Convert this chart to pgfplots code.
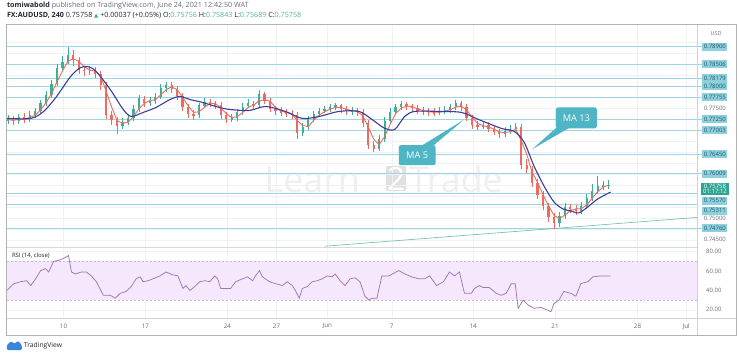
\documentclass[border=0pt]{standalone}
\usepackage{pgfplots}
\pgfplotsset{compat=1.18}
\usepackage{pgfplotstable}
\usepackage{fontspec}
\setmainfont{Open Sans}
\newfontfamily\dejavu{DejaVu Sans}
\newcommand\fs[1]{\fontsize{#1}{#1}\selectfont}
\definecolor{lvl}{HTML}{9DD5E2}
\definecolor{lvlbox}{HTML}{8FD0DF}
\definecolor{lvltxt}{HTML}{1D5566}
\definecolor{upc}{HTML}{3DAE98}
\definecolor{dnc}{HTML}{EF6A5E}
\definecolor{mafc}{HTML}{F06A5C}
\definecolor{matc}{HTML}{3D3D99}
\definecolor{rsil}{HTML}{A274B8}
\definecolor{rsif}{HTML}{F5E8FC}
\definecolor{rsid}{HTML}{CDB6DA}
\definecolor{callc}{HTML}{4DB5C3}
\definecolor{trendc}{HTML}{6BBBA6}
\definecolor{gridc}{HTML}{EEF1F5}
\definecolor{txtg}{HTML}{6A6D78}
\definecolor{txtd}{HTML}{232630}
\definecolor{curp}{HTML}{2EA594}
\definecolor{wm}{HTML}{EFEFEF}
\definecolor{wmb}{HTML}{E0E0E0}
\definecolor{tvblue}{HTML}{3A86D8}
\definecolor{valc}{HTML}{4DB6A4}
\tikzset{
  lbl/.style={anchor=west, xshift=5pt, fill=lvlbox, text=lvltxt, font=\fs{6}, inner xsep=1.4pt, inner ysep=0.5pt, minimum height=8pt},
  plbl/.style={anchor=west, xshift=5pt, text=txtg, font=\fs{6}, inner xsep=1.4pt, inner ysep=0.5pt},
  tl/.style={anchor=center, yshift=-8pt, text=txtg, font=\fs{6.3}},
  rl/.style={anchor=west, xshift=5.5pt, text=txtg, font=\fs{6}},
}

\pgfplotstableread{
k o c h l
0 0.77199 0.77244 0.77335 0.77131
1 0.77244 0.77199 0.77312 0.77108
2 0.77199 0.77290 0.77358 0.77131
3 0.77290 0.77244 0.77381 0.77154
4 0.77244 0.77335 0.77426 0.77176
5 0.77335 0.77426 0.77494 0.77267
6 0.77426 0.77630 0.77698 0.77381
7 0.77630 0.77811 0.77902 0.77562
8 0.77811 0.78061 0.78152 0.77743
9 0.78061 0.78424 0.78515 0.78016
10 0.78424 0.78560 0.78696 0.78356
11 0.78560 0.78719 0.78900 0.78515
12 0.78719 0.78605 0.78832 0.78469
13 0.78605 0.78378 0.78673 0.78288
14 0.78378 0.78356 0.78469 0.78242
15 0.78356 0.78378 0.78469 0.78265
16 0.78378 0.78288 0.78446 0.78197
17 0.78288 0.78038 0.78356 0.77925
18 0.78038 0.77335 0.78106 0.77244
19 0.77335 0.77222 0.77426 0.77108
20 0.77222 0.77086 0.77290 0.76904
21 0.77086 0.77176 0.77267 0.77018
22 0.77176 0.77267 0.77358 0.77108
23 0.77267 0.77471 0.77562 0.77199
24 0.77471 0.77721 0.77811 0.77403
25 0.77721 0.77630 0.77789 0.77539
26 0.77630 0.77675 0.77766 0.77562
27 0.77675 0.77766 0.77857 0.77607
28 0.77766 0.77970 0.78061 0.77698
29 0.77970 0.78038 0.78106 0.77879
30 0.78038 0.77948 0.78106 0.77857
31 0.77948 0.77789 0.78016 0.77698
32 0.77789 0.77517 0.77857 0.77426
33 0.77517 0.77358 0.77585 0.77267
34 0.77358 0.77335 0.77471 0.77222
35 0.77335 0.77562 0.77630 0.77267
36 0.77562 0.77653 0.77743 0.77494
37 0.77653 0.77607 0.77721 0.77539
38 0.77607 0.77562 0.77675 0.77471
39 0.77562 0.77335 0.77630 0.77244
40 0.77335 0.77244 0.77403 0.77154
41 0.77244 0.77267 0.77358 0.77176
42 0.77267 0.77403 0.77471 0.77199
43 0.77403 0.77539 0.77630 0.77335
44 0.77539 0.77607 0.77698 0.77494
45 0.77607 0.77562 0.77675 0.77471
46 0.77562 0.77834 0.77925 0.77517
47 0.77834 0.77675 0.77879 0.77585
48 0.77675 0.77471 0.77743 0.77403
49 0.77471 0.77426 0.77539 0.77335
50 0.77426 0.77403 0.77517 0.77312
51 0.77403 0.77381 0.77471 0.77290
52 0.77381 0.77335 0.77449 0.77244
53 0.77335 0.76927 0.77403 0.76791
54 0.76927 0.77063 0.77154 0.76859
55 0.77063 0.77244 0.77312 0.76995
56 0.77244 0.77358 0.77426 0.77176
57 0.77358 0.77426 0.77494 0.77290
58 0.77426 0.77471 0.77562 0.77381
59 0.77471 0.77539 0.77607 0.77403
60 0.77539 0.77562 0.77630 0.77449
61 0.77562 0.77471 0.77607 0.77381
62 0.77471 0.77426 0.77539 0.77335
63 0.77426 0.77449 0.77517 0.77335
64 0.77449 0.77403 0.77494 0.77312
65 0.77403 0.77154 0.77471 0.77063
66 0.77154 0.76655 0.77222 0.76564
67 0.76655 0.76564 0.76745 0.76496
68 0.76564 0.76791 0.76882 0.76519
69 0.76791 0.77199 0.77290 0.76723
70 0.77199 0.77403 0.77494 0.77131
71 0.77403 0.77517 0.77607 0.77335
72 0.77517 0.77585 0.77675 0.77449
73 0.77585 0.77539 0.77653 0.77449
74 0.77539 0.77494 0.77607 0.77403
75 0.77494 0.77426 0.77562 0.77358
76 0.77426 0.77449 0.77517 0.77335
77 0.77449 0.77403 0.77494 0.77312
78 0.77403 0.77381 0.77494 0.77312
79 0.77381 0.77426 0.77517 0.77335
80 0.77426 0.77449 0.77539 0.77358
81 0.77449 0.77517 0.77607 0.77381
82 0.77517 0.77607 0.77698 0.77449
83 0.77607 0.77517 0.77653 0.77426
84 0.77517 0.77267 0.77585 0.77199
85 0.77267 0.77108 0.77335 0.77018
86 0.77108 0.77086 0.77199 0.76995
87 0.77086 0.77108 0.77199 0.77018
88 0.77108 0.77018 0.77176 0.76950
89 0.77018 0.76950 0.77086 0.76882
90 0.76950 0.76904 0.77018 0.76814
91 0.76904 0.76972 0.77063 0.76836
92 0.76972 0.77018 0.77108 0.76904
93 0.77018 0.77063 0.77154 0.76972
94 0.77063 0.76201 0.77131 0.76110
95 0.76201 0.76110 0.76337 0.76020
96 0.76110 0.75793 0.76178 0.75702
97 0.75793 0.75521 0.75884 0.75430
98 0.75521 0.75271 0.75611 0.75181
99 0.75271 0.75022 0.75339 0.74908
100 0.75022 0.74886 0.75113 0.74750
101 0.74886 0.75044 0.75135 0.74795
102 0.75044 0.75249 0.75339 0.74976
103 0.75249 0.75203 0.75317 0.75113
104 0.75203 0.75158 0.75294 0.75067
105 0.75158 0.75271 0.75362 0.75090
106 0.75271 0.75453 0.75543 0.75203
107 0.75453 0.75611 0.75770 0.75385
108 0.75611 0.75725 0.75952 0.75543
109 0.75725 0.75748 0.75838 0.75634
110 0.75748 0.75758 0.75861 0.75657
}\candles

\pgfplotstableread{
k v
0 0.77244
1 0.77222
2 0.77244
3 0.77244
4 0.77290
5 0.77335
6 0.77464
7 0.77623
8 0.77834
9 0.78099
10 0.78349
11 0.78567
12 0.78628
13 0.78567
14 0.78446
15 0.78372
16 0.78340
17 0.78236
18 0.77886
19 0.77532
20 0.77215
21 0.77160
22 0.77176
23 0.77306
24 0.77487
25 0.77607
26 0.77675
27 0.77691
28 0.77805
29 0.77925
30 0.77986
31 0.77925
32 0.77750
33 0.77555
34 0.77403
35 0.77419
36 0.77517
37 0.77607
38 0.77607
39 0.77501
40 0.77380
41 0.77283
42 0.77306
43 0.77403
44 0.77517
45 0.77569
46 0.77669
47 0.77691
48 0.77659
49 0.77523
50 0.77433
51 0.77403
52 0.77374
53 0.77215
54 0.77108
55 0.77079
56 0.77222
57 0.77342
58 0.77419
59 0.77478
60 0.77517
61 0.77517
62 0.77478
63 0.77442
64 0.77419
65 0.77328
66 0.77070
67 0.76791
68 0.76671
69 0.76852
70 0.77131
71 0.77374
72 0.77501
73 0.77546
74 0.77539
75 0.77487
76 0.77448
77 0.77419
78 0.77410
79 0.77410
80 0.77426
81 0.77464
82 0.77523
83 0.77546
84 0.77464
85 0.77297
86 0.77154
87 0.77101
88 0.77070
89 0.77024
90 0.76956
91 0.76943
92 0.76965
93 0.77018
94 0.76761
95 0.76457
96 0.76036
97 0.75809
98 0.75528
99 0.75271
100 0.75060
101 0.74983
102 0.75060
103 0.75165
104 0.75203
105 0.75210
106 0.75294
107 0.75446
108 0.75596
109 0.75695
110 0.75748
}\mafive

\pgfplotstableread{
k v
-0.18 0.77267
4.19 0.77267
6.56 0.77426
8.93 0.77766
11.48 0.78220
13.30 0.78424
14.75 0.78446
16.21 0.78333
18.76 0.77925
21.13 0.77471
22.59 0.77312
24.77 0.77403
27.14 0.77517
29.69 0.77698
31.51 0.77766
33.33 0.77698
35.70 0.77630
38.07 0.77539
40.62 0.77471
44.26 0.77449
47.18 0.77539
50.82 0.77426
53.92 0.77267
57.01 0.77312
60.66 0.77426
64.30 0.77426
66.67 0.77244
69.03 0.77040
70.86 0.77018
72.68 0.77312
74.50 0.77426
78.87 0.77426
83.06 0.77403
86.16 0.77244
90.35 0.77040
92.71 0.76972
94.54 0.76723
96.36 0.76178
98.18 0.75725
100.00 0.75362
101.64 0.75203
103.10 0.75158
104.55 0.75113
106.19 0.75249
108.01 0.75430
110.38 0.75589
}\mathirteen

\pgfplotstableread{
k v
-0.18 40
0.18 41.8
1.09 47
2.37 49
3.46 50
4.19 45
5.10 52
6.01 60.5
6.92 62.5
7.47 59
8.38 70
9.29 71
10.20 73
11.11 76
11.66 59
12.39 57
13.48 59
14.39 59
15.30 55
16.21 49
17.49 35
18.76 35
19.67 32
20.58 37
21.68 39
22.59 44
23.50 52
24.23 54
24.77 49
25.68 50
26.59 52
27.87 55
28.96 59
30.24 56
31.15 55
32.06 42
32.60 45
33.33 40
34.24 44
35.15 49
36.07 50
36.98 49
37.89 55
38.43 52
38.98 42
39.89 42
40.80 42
41.71 49
42.99 52
43.90 54
44.81 50
45.36 55
46.08 60.5
46.63 54
47.91 49
49.00 47
50.27 45
51.18 49
52.09 45
52.64 40
53.37 32
53.92 42
54.83 44
55.74 49
56.65 50
57.56 52
58.47 55
59.38 54
59.93 57
60.84 50
61.75 45
62.66 52
63.57 53
64.48 49
65.39 34
66.12 30
66.67 32
67.58 32
68.49 55
69.76 55
71.58 60.5
72.68 57
73.95 54
75.23 52
76.32 52
77.23 55
78.51 45
79.78 49
80.87 59
81.79 55
82.70 59
83.61 37
84.88 37
85.43 42
86.34 45
87.07 43
88.16 43
89.44 37
90.35 35
91.26 37
92.17 47
92.90 47
93.44 21.5
94.35 30
95.26 25
96.36 21.5
97.63 22.5
98.91 19.5
99.45 18
100.00 26.5
100.91 30
101.82 39
103.10 37
104.01 34
104.92 47
106.19 49
107.10 54
108.56 55
110.38 55
}\rsi

\begin{document}
\begin{tikzpicture}
\begin{scope}[x=1pt,y=-1pt]
\path[use as bounding box] (0,0) rectangle (740,357);
\fill[white] (0,0) rectangle (740,357);
% watermark
\node[text=wm, font=\fs{36}, inner sep=0, anchor=base west] at (262,193) {Learn};
\node[fill=wmb, text=white, font=\fs{32}, rounded corners=2pt, inner sep=1pt, anchor=base west] at (384,191) {2};
\node[text=wm, font=\fs{36}, inner sep=0, anchor=base west] at (407,193) {Trade};
\end{scope}

\begin{axis}[
  at={(3pt,-249pt)}, anchor=south west,
  scale only axis, width=694pt, height=225pt,
  xmin=-0.18, xmax=126.23, ymin=0.74319, ymax=0.79422,
  axis line style={draw=none}, tick style={draw=none},
  xtick={10.2,25.2,40.2,49.2,58.5,70.3,85.2,100.2,115.3,124.2},
  xticklabels={},
  ytick={0.745,0.7475,0.75,0.7525,0.755,0.7575,0.76,0.7625,0.765,0.7675,0.77,0.7725,0.775,0.7775,0.78,0.7825,0.785,0.7875,0.79},
  yticklabels={},
  grid=major, grid style={gridc, line width=0.4pt},
  clip=false,
]
% level lines
\addplot[lvl, line width=0.65pt, forget plot] coordinates {(-0.18,0.78900) (127.1,0.78900)};
\addplot[lvl, line width=0.65pt, forget plot] coordinates {(-0.18,0.78506) (127.1,0.78506)};
\addplot[lvl, line width=0.65pt, forget plot] coordinates {(-0.18,0.78179) (127.1,0.78179)};
\addplot[lvl, line width=0.65pt, forget plot] coordinates {(-0.18,0.78000) (127.1,0.78000)};
\addplot[lvl, line width=0.65pt, forget plot] coordinates {(-0.18,0.77755) (127.1,0.77755)};
\addplot[lvl, line width=0.65pt, forget plot] coordinates {(-0.18,0.77250) (127.1,0.77250)};
\addplot[lvl, line width=0.65pt, forget plot] coordinates {(-0.18,0.77003) (127.1,0.77003)};
\addplot[lvl, line width=0.65pt, forget plot] coordinates {(-0.18,0.76450) (127.1,0.76450)};
\addplot[lvl, line width=0.65pt, forget plot] coordinates {(-0.18,0.76009) (127.1,0.76009)};
\addplot[lvl, line width=0.65pt, forget plot] coordinates {(-0.18,0.75570) (126.23,0.75570)};
\addplot[lvl, line width=0.65pt, forget plot] coordinates {(-0.18,0.75311) (126.23,0.75311)};
\addplot[lvl, line width=0.65pt, forget plot] coordinates {(-0.18,0.74760) (127.1,0.74760)};
% trend line
\addplot[trendc, line width=0.6pt, forget plot] coordinates {(58.0,0.74353) (126.23,0.75010)};
% wicks
\addplot[draw=none, mark=none, forget plot,
  restrict expr to domain={\thisrow{c}-\thisrow{o}}{0:1},
  error bars/.cd, y dir=both, y explicit, error mark=none,
  error bar style={draw=upc, line width=0.5pt}]
  table[x=k, y expr={(\thisrow{h}+\thisrow{l})/2}, y error expr={(\thisrow{h}-\thisrow{l})/2}] {\candles};
\addplot[draw=none, mark=none, forget plot,
  restrict expr to domain={\thisrow{o}-\thisrow{c}}{0.000001:1},
  error bars/.cd, y dir=both, y explicit, error mark=none,
  error bar style={draw=dnc, line width=0.5pt}]
  table[x=k, y expr={(\thisrow{h}+\thisrow{l})/2}, y error expr={(\thisrow{h}-\thisrow{l})/2}] {\candles};
% bodies
\addplot[draw=none, mark=none, forget plot,
  restrict expr to domain={\thisrow{c}-\thisrow{o}}{0:1},
  error bars/.cd, y dir=both, y explicit, error mark=none,
  error bar style={draw=upc, line width=2.2pt}]
  table[x=k, y expr={(\thisrow{o}+\thisrow{c})/2}, y error expr={abs(\thisrow{o}-\thisrow{c})/2}] {\candles};
\addplot[draw=none, mark=none, forget plot,
  restrict expr to domain={\thisrow{o}-\thisrow{c}}{0.000001:1},
  error bars/.cd, y dir=both, y explicit, error mark=none,
  error bar style={draw=dnc, line width=2.2pt}]
  table[x=k, y expr={(\thisrow{o}+\thisrow{c})/2}, y error expr={abs(\thisrow{o}-\thisrow{c})/2}] {\candles};
% moving averages
\addplot[mafc, line width=0.9pt, forget plot] table[x=k,y=v] {\mafive};
\addplot[matc, line width=1.1pt, smooth, tension=0.5, forget plot] table[x=k,y=v] {\mathirteen};
% price scale labels
\node[lbl] at (axis cs:126.23,0.78900) {0.78900};
\node[lbl] at (axis cs:126.23,0.78506) {0.78506};
\node[lbl] at (axis cs:126.23,0.78179) {0.78179};
\node[lbl] at (axis cs:126.23,0.78000) {0.78000};
\node[lbl] at (axis cs:126.23,0.77755) {0.77755};
\node[plbl] at (axis cs:126.23,0.77500) {0.77500};
\node[lbl] at (axis cs:126.23,0.77250) {0.77250};
\node[lbl] at (axis cs:126.23,0.77003) {0.77003};
\node[lbl] at (axis cs:126.23,0.76450) {0.76450};
\node[lbl] at (axis cs:126.23,0.76009) {0.76009};
\node[plbl] at (axis cs:126.23,0.74500) {0.74500};
\node[plbl, yshift=-1pt] at (axis cs:126.23,0.75000) {0.75000};
\node[lbl] at (axis cs:126.23,0.74760) {0.74760};
\node[lbl, yshift=-6.5pt] at (axis cs:126.23,0.75311) {0.75311};
\node[lbl, yshift=-8pt] at (axis cs:126.23,0.75570) {0.75570};
\node[anchor=west, xshift=4pt, yshift=-4.5pt, fill=curp, text=white, font=\fs{6}, inner xsep=1.8pt, inner ysep=1pt, align=center] at (axis cs:126.23,0.75758) {0.75758\\[-0.5pt]01:17:12};
\end{axis}

\begin{axis}[
  at={(3pt,-320pt)}, anchor=south west,
  scale only axis, width=694pt, height=71pt,
  xmin=-0.18, xmax=126.23, ymin=11.2, ymax=84.06,
  axis line style={draw=none}, tick style={draw=none},
  xtick={10.2,25.2,40.2,49.2,58.5,70.3,85.2,100.2,115.3,124.2},
  xticklabels={},
  ytick={20,40,60,80}, yticklabels={},
  grid=major, grid style={gridc, line width=0.4pt},
  clip=false,
]
\addplot[fill=rsif, draw=none, forget plot] coordinates {(-0.18,30) (126.23,30) (126.23,70) (-0.18,70)} -- cycle;
\addplot[rsid, dashed, dash pattern=on 2pt off 2pt, line width=0.5pt, forget plot] coordinates {(-0.18,70) (126.23,70)};
\addplot[rsid, dashed, dash pattern=on 2pt off 2pt, line width=0.5pt, forget plot] coordinates {(-0.18,30) (126.23,30)};
\addplot[rsil, line width=0.75pt, forget plot] table[x=k,y=v] {\rsi};
\node[tl] at (axis cs:10.2,11.2) {10};
\node[tl] at (axis cs:25.2,11.2) {17};
\node[tl] at (axis cs:40.2,11.2) {24};
\node[tl] at (axis cs:49.2,11.2) {27};
\node[tl] at (axis cs:58.5,11.2) {Jun};
\node[tl] at (axis cs:70.3,11.2) {7};
\node[tl] at (axis cs:85.2,11.2) {14};
\node[tl] at (axis cs:100.2,11.2) {21};
\node[tl] at (axis cs:115.3,11.2) {28};
\node[tl] at (axis cs:124.2,11.2) {Jul};
\node[rl] at (axis cs:126.23,80) {80.00};
\node[rl] at (axis cs:126.23,60) {60.00};
\node[rl] at (axis cs:126.23,40) {40.00};
\node[rl] at (axis cs:126.23,20) {20.00};
\end{axis}

\begin{scope}[x=1pt,y=-1pt]
% frame and separators
\draw[gray!30, line width=0.5pt] (3,249) -- (697,249);
\draw[gray!35, line width=0.5pt] (3,320) -- (736,320);
\draw[gray!35, line width=0.5pt] (697,24) -- (697,337);
\draw[gray!60, line width=0.7pt] (3,24) rectangle (736,337);
\node[text=txtg, font=\fs{5.5}] at (716,34) {USD};
\node[anchor=west, text=txtd, font=\fs{6}, inner sep=0] at (8,257.5) {RSI (14, close)};
% callouts
\fill[callc, rounded corners=2pt] (397,146) rectangle (434,166);
\fill[callc] (419,147) -- (463,120) -- (431,147) -- cycle;
\node[text=white, font=\fs{9.3}] at (415.5,156) {MA 5};
\fill[callc, rounded corners=2pt] (555,108) rectangle (596,129);
\fill[callc] (557,127) -- (531,150) -- (571,127) -- cycle;
\node[text=white, font=\fs{9.3}] at (575.5,118.5) {MA 13};
% header
\node[anchor=west, inner sep=0, font=\fs{7.2}, text=txtg] at (3,5.5) {{\color{txtd}\bfseries tomiwabold} published on TradingView.com, June 24, 2021 12:42:50 WAT};
\node[anchor=west, inner sep=0, font=\fs{7.2}, text=txtd] at (3,16) {\textbf{FX:AUDUSD, 240} 0.75758 {\color{upc}\dejavu\fs{5.5}▲} +0.00037 (+0.05\%) O:{\color{valc}0.75756} H:{\color{valc}0.75843} L:{\color{valc}0.75689} C:{\color{valc}0.75758}};
% footer
\fill[tvblue, rounded corners=1.2pt] (3,352) -- (3,347) -- (7,343) -- (11,345.5) -- (14.5,342.5) -- (18,347) -- (18,352) -- cycle;
\node[anchor=west, inner sep=0, font=\fs{6.8}, text=txtd] at (20,348) {TradingView};
\end{scope}
\end{tikzpicture}
\end{document}
